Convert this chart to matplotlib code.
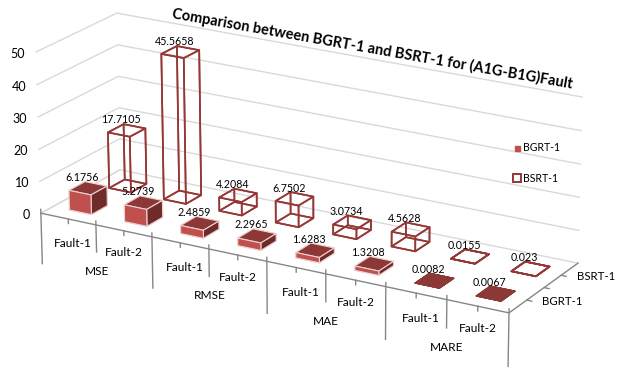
import numpy as np
import matplotlib
matplotlib.use("Agg")
import matplotlib.pyplot as plt
from matplotlib.lines import Line2D
from mpl_toolkits.mplot3d import proj3d

# ---- data ----
metric_groups = ["MSE", "RMSE", "MAE", "MARE"]
fault_labels = ["Fault-1", "Fault-2"] * 4
series_names = ["BGRT-1", "BSRT-1"]
bgrt_values = [6.1756, 5.2739, 2.4859, 2.2965, 1.6283, 1.3208, 0.0082, 0.0067]
bsrt_values = [17.7105, 45.5658, 4.2084, 6.7502, 3.0734, 4.5628, 0.0155, 0.023]
bgrt_labels = ["6.1756", "5.2739", "2.4859", "2.2965", "1.6283", "1.3208", "0.0082", "0.0067"]
bsrt_labels = ["17.7105", "45.5658", "4.2084", "6.7502", "3.0734", "4.5628", "0.0155", "0.023"]
z_ticks = [0, 10, 20, 30, 40, 50]
title = "Comparison between BGRT-1 and BSRT-1 for (A1G-B1G)Fault"

W, H = 621, 370
plt.rcParams['font.family'] = ['Lato', 'DejaVu Sans']
fig = plt.figure(figsize=(W / 100, H / 100), dpi=100, facecolor='white')
ax = fig.add_axes([0, 1 - W / H, 1, W / H], projection='3d', proj_type='ortho')
ax.set_xticks([])
ax.set_yticks([])
ax.set_zticks([])
ax.set_axis_off()
ax.computed_zorder = False
ax.viewLim.intervalx = (0, W)
ax.viewLim.intervaly = (W, 0)

# camera calibration: world box corners -> image position
world = np.array([(0, 0, 0), (8, 0, 0), (8, 2, 0), (0, 2, 0),
                  (0, 0, 50), (0, 2, 50), (8, 2, 50)], float)
image = np.array([(41, 213), (509, 313), (578, 263), (120, 170),
                  (36, 52), (117, 13), (582, 97)], float)
S = np.diag([1 / 8, 1 / 2, 1 / 50, 1.0])
rows = []
for (X, Y, Z), (u, v) in zip(world / [8, 2, 50], image):
    rows.append([X, Y, Z, 1, 0, 0, 0, 0, -u * X, -u * Y, -u * Z, -u])
    rows.append([0, 0, 0, 0, X, Y, Z, 1, -v * X, -v * Y, -v * Z, -v])
P = np.linalg.svd(np.array(rows))[2][-1].reshape(3, 4) @ S
P = P / P[2, 3]
M = np.vstack([P[0], P[1], [-1.0, 1.0, -0.01, 0.0], P[2]])
ax.get_proj = lambda: M


def label(x, y, z, s, **kw):
    u, v, _ = proj3d.proj_transform(x, y, z, M)
    ax.text2D(float(u), float(v), s, transform=ax.transData, **kw)


GRID = '#D9D9D9'
AXIS = '#868686'
RED = '#C0504D'
TOP = '#8C3836'
SIDE = '#6E2B29'
LINE = '#953735'
BEVEL = '#EFD3D2'

# walls
ax.plot([0, 0], [0, 2], [0, 0], color=GRID, lw=1, zorder=1)
for v in z_ticks:
    ax.plot([0, 0, 8], [0, 2, 2], [v, v, v], color=GRID, lw=1, zorder=1)
    label(-0.2, 0, v - 1.3, str(v), ha='right', va='center', fontsize=9, zorder=50)

# axes
ax.plot([0, 8, 8], [0, 0, 2], [0, 0, 0], color=AXIS, lw=1, zorder=2)
for k in range(8):
    ax.plot([k + 0.5] * 2, [0, 0], [0, -1.4], color=AXIS, lw=1, zorder=2)
    dx, dz = (0.58, -7.4) if k % 2 == 0 else (0.5, -6.8)
    label(k + dx, 0, dz, fault_labels[k], ha='center', va='center', fontsize=8.6, zorder=50)
for k in range(0, 9):
    low = -16 if k % 2 == 0 else -8.5
    ax.plot([k, k], [0, 0], [1.2, low], color=AXIS, lw=1, zorder=2)
for g, name in enumerate(metric_groups):
    label(2 * g + 1, 0, -14.5, name, ha='center', va='center', fontsize=8.6, zorder=50)
for y in (0.5, 1, 1.5):
    ax.plot([8, 8.08], [y, y], [0, 0], color=AXIS, lw=1, zorder=2)
for s, name in enumerate(series_names):
    label(8.57, s + 0.5, 1.7, name, ha='center', va='center', fontsize=8.2, zorder=50)

# bars
bw, bd = 0.4, 0.4
z = 10
for k, v in enumerate(bsrt_values):
    ax.bar3d(k + 0.5 - bw / 2, 1.5 - bd / 2, 0, bw, bd, v, color=(1, 1, 1, 0), shade=False,
             edgecolor=LINE, linewidth=1.2, zorder=z)
    z += 1
for k, v in enumerate(bgrt_values):
    faces = [TOP, TOP, RED, TOP, RED, SIDE]
    ax.bar3d(k + 0.5 - bw / 2, 0.5 - bd / 2, 0, bw, bd, v, color=faces, shade=False,
             edgecolor=BEVEL if v > 0.5 else TOP, linewidth=0.8, zorder=z)
    z += 1

# value labels
for k, (a, b) in enumerate(zip(bgrt_values, bsrt_values)):
    label(k + 0.4, 0.5, a + 3.0, bgrt_labels[k], ha='center', va='center', fontsize=7.7, zorder=60)
    label(k + 0.4, 1.5, b + 3.0, bsrt_labels[k], ha='center', va='center', fontsize=7.7, zorder=60)

# title
fig.text(372 / W, 1 - 49 / H, title, rotation=-10, rotation_mode='anchor', ha='center', va='center',
         fontsize=10.5, fontweight='bold')

# legend
handles = [Line2D([], [], ls='none', marker='s', ms=3.6, color=RED),
           Line2D([], [], ls='none', marker='s', ms=5.5, mfc='white', mec=LINE, mew=1.4)]
fig.legend(handles, series_names, frameon=False, loc='center left', fontsize=7.6,
           bbox_to_anchor=(511.5 / W, 1 - 163 / H), labelspacing=1.85, handlelength=1.0,
           handletextpad=0.07, borderpad=0, borderaxespad=0)

fig.savefig('out.png', dpi=100)
